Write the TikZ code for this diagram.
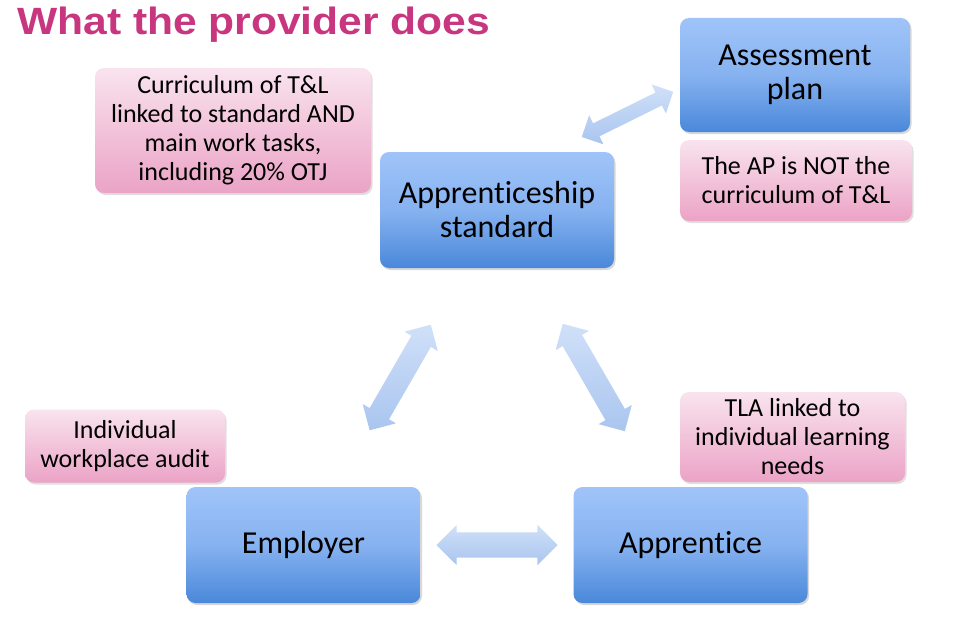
\documentclass[tikz,border=0pt]{standalone}
\usepackage{fontspec}
\setmainfont{Carlito}[Ligatures={NoCommon}]
\newfontfamily\titlefont{Liberation Sans}
\usetikzlibrary{shapes.arrows,shadows,calc}

\definecolor{titlepink}{HTML}{C8367F}
\definecolor{bluetop}{HTML}{A0C4F9}
\definecolor{bluemid}{HTML}{86B2F0}
\definecolor{bluebot}{HTML}{4A88DA}
\definecolor{pinktop}{HTML}{F9E3EE}
\definecolor{pinkbot}{HTML}{EBA3C6}
\definecolor{arrowtop}{HTML}{D0E0F8}
\definecolor{arrowbot}{HTML}{A9C5EF}

\tikzset{
	bluebox/.style={rectangle, rounded corners=9pt, top color=bluetop, bottom color=bluebot, middle color=bluemid, align=center, inner sep=0pt, minimum width=234pt, minimum height=116pt, font=\fontsize{32}{34}\selectfont, drop shadow={opacity=0.3, shadow xshift=1.5pt, shadow yshift=-2pt}},
	pinkbox/.style={rectangle, rounded corners=9pt, top color=pinktop, bottom color=pinkbot, align=center, inner sep=0pt, font=\fontsize{26}{29}\selectfont, drop shadow={opacity=0.25, shadow xshift=1.5pt, shadow yshift=-2pt}},
	dblarrow/.style={double arrow, double arrow head extend=8pt, double arrow head indent=0pt, inner xsep=0pt, inner ysep=11pt, top color=arrowtop, bottom color=arrowbot, draw=none}
}

\begin{document}
\begin{tikzpicture}[x=1pt, y=-1pt]
				\useasboundingbox (0,0) rectangle (960,626);
				\fill[white] (0,0) rectangle (960,626);
				
				\node[anchor=base west, inner sep=0pt, text=titlepink, font=\titlefont\bfseries\fontsize{38}{44}\selectfont, xscale=1.12] (title) at (17,35) {What the provider does};
				
				\node[bluebox, minimum width=234pt] (std) at (497,210) {Apprenticeship\\standard};
				\node[bluebox, minimum width=230pt, minimum height=114pt] (asp) at (795,75) {Assessment\\plan};
				\node[bluebox] (emp) at (303.5,545) {Employer};
				\node[bluebox] (app) at (690.5,545) {Apprentice};
				
				\node[pinkbox, minimum width=276pt, minimum height=125pt] (cur) at (233,130.5) {Curriculum of T\&L\\linked to standard AND\\main work tasks,\\including 20\% OTJ};
				\node[pinkbox, minimum width=232pt, minimum height=81pt] (apn) at (796,180.5) {The AP is NOT the\\curriculum of T\&L};
				\node[pinkbox, minimum width=200pt, minimum height=73pt] (ind) at (125,446) {Individual\\workplace audit};
				\node[pinkbox, minimum width=225pt, minimum height=90pt] (tla) at (792.5,437) {TLA linked to\\individual learning\\needs};
				
				\path ($(std.north east)+(-32,-15)$) -- node[dblarrow, sloped, inner ysep=7pt, double arrow head extend=9pt, minimum height=102pt] (arr-asp) {} ($(asp.west)+(-7,17)$);
				\path (std) -- node[dblarrow, sloped, minimum height=122pt] (arr-emp) {} (emp);
				\path (std) -- node[dblarrow, sloped, minimum height=124pt] (arr-app) {} (app);
				\path (emp) -- node[dblarrow, inner ysep=12.5pt, double arrow head extend=7.5pt, minimum height=121pt] (arr-ea) {} (app);
				\end{tikzpicture}
\end{document}
